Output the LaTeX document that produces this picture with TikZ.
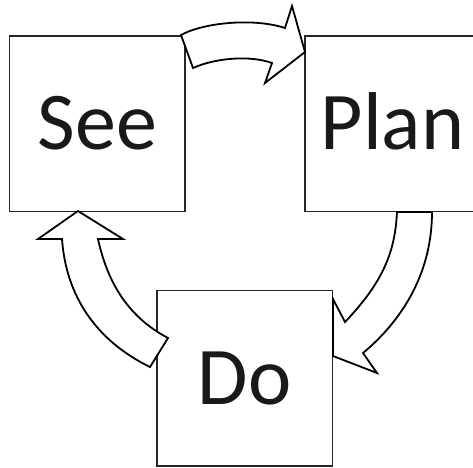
\documentclass[tikz,border=0pt]{standalone}
\usepackage{fontspec}
\setmainfont{Carlito}
\begin{document}
\begin{tikzpicture}[x=1pt, y=-1pt, thick]
        \tikzstyle{box}=[rectangle, draw=black!85, line width=1.5pt, fill=white, minimum size=175.5pt, inner sep=0pt, text height=52pt, text depth=0pt, font=\fontsize{82}{82}\selectfont, text=black!90]
        \tikzstyle{blockarrow}=[draw=black, fill=white, line width=1.8pt]

        \useasboundingbox (0,0) rectangle (473,467);

        % Boxes
        \node[box] (see) at (97.25,123.5) {See};
        \node[box] (plan) at (392.5,123.5) {Plan};
        \node[box] (do) at (244.8,378.2) {Do};

        % Curved block arrow see -> plan (top)
        \draw[blockarrow] (181,35) .. controls (205,22) and (255,18) .. (285,28)
            -- (292,6) -- (305,52) -- (265,83) -- (272,63)
            .. controls (250,55) and (215,58) .. (193,68) -- cycle;

        % Curved block arrow plan -> do (right)
        \draw[blockarrow] (397,212) .. controls (395,250) and (385,280) .. (345,322)
            -- (333,299) -- (333,356) -- (377,373) -- (363,353)
            .. controls (405,318) and (432,270) .. (432,212) -- cycle;

        % Curved block arrow do -> see (left)
        \draw[blockarrow] (78,211) -- (123,239) -- (98,239)
            .. controls (108,285) and (130,318) .. (168,338) -- (150,367)
            .. controls (95,340) and (66,295) .. (62,239) -- (38,239) -- cycle;
        \end{tikzpicture}
\end{document}
